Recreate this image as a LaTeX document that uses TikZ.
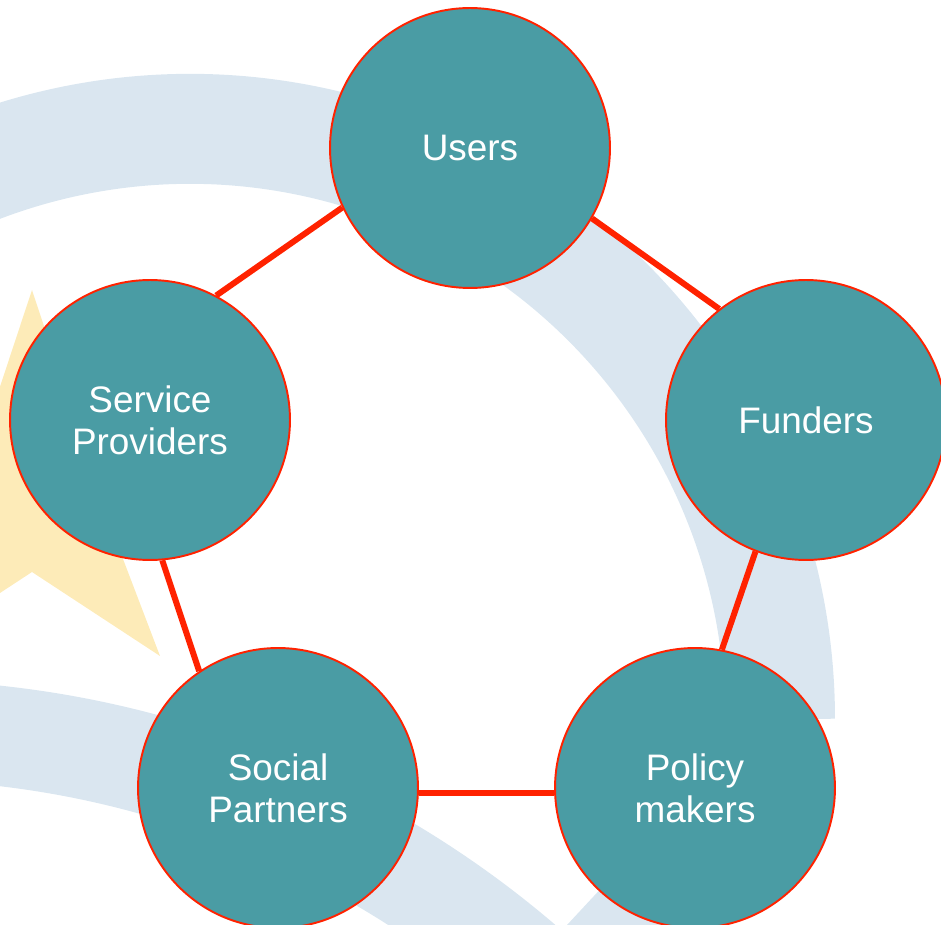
\documentclass[tikz,border=0pt]{standalone}
\usepackage{fontspec}
\setmainfont{Liberation Sans}
\definecolor{tealfill}{HTML}{4A9CA4}
\definecolor{linkred}{HTML}{FF2200}
\definecolor{swooshblue}{HTML}{DAE6F0}
\definecolor{stargold}{HTML}{FDEBB8}
\tikzset{party/.style={circle,draw=linkred,line width=1.1pt,fill=tealfill,text=white,
  minimum size=5.6cm,inner sep=0pt,align=center,font=\fontsize{21}{24}\selectfont},
  link/.style={draw=linkred,line width=3.4pt}}
\begin{document}
\begin{tikzpicture}[x=0.02cm,y=-0.02cm]
\useasboundingbox(0,0)rectangle(941,925);
\clip(0,0)rectangle(941,925);
% faint logo behind the ring
\fill[stargold](32,290)--(78,429)--(225,430)--(107,517)--(160,656)--(32,572)
  --(-96,656)--(-43,517)--(-161,430)--(-14,429)--cycle;
\draw[swooshblue,line width=2.2cm](190,719)++(200:590)arc(200:360:590);
\draw[swooshblue,line width=2cm](-107,1698)++(260:968)arc(260:325:968);
\fill[swooshblue](567,925)--(620,868)--(700,925)--cycle;
% the five parties
\node[party](users)at(470,148){Users};
\node[party](funders)at(806,420){Funders};
\node[party](policy)at(695,788){Policy\\makers};
\node[party](social)at(278,788){Social\\Partners};
\node[party](service)at(150,420){Service\\Providers};
\draw[link](users.330)--(funders.128);
\draw[link](funders.249)--(policy.79);
\draw[link](policy.182)--(social.358);
\draw[link](social.124)--(service.275);
\draw[link](service.62)--(users.205);
\end{tikzpicture}
\end{document}
